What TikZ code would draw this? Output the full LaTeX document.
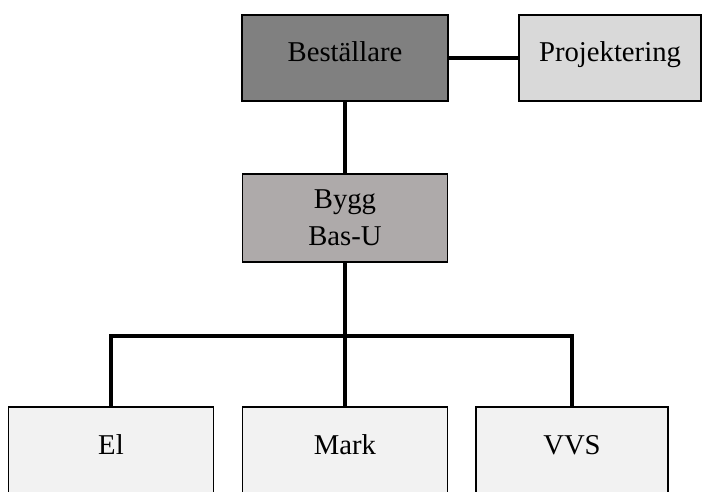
\documentclass[tikz,border=0pt]{standalone}
\usepackage{fontspec}
\setmainfont{Liberation Serif}
\definecolor{bestgray}{HTML}{808080}
\definecolor{projgray}{HTML}{D9D9D9}
\definecolor{bygggray}{HTML}{AEAAAA}
\definecolor{subgray}{HTML}{F2F2F2}
\begin{document}
\begin{tikzpicture}[x=1pt, y=-1pt,
  box/.style={draw, line width=1.4pt, inner sep=0pt, font=\fontsize{28.7}{37}\selectfont},
  topbox/.style={box, minimum height=86pt, text height=19.5pt, text depth=12pt},
  subbox/.style={box, fill=subgray, minimum height=93pt, text height=20pt, text depth=19pt},
  link/.style={line width=4pt}]
\useasboundingbox (0,0) rectangle (702,491);

\node[topbox, fill=bestgray, minimum width=206pt] (best) at (345,58) {Beställare};
\node[topbox, fill=projgray, minimum width=182pt] (proj) at (610,58) {Projektering};

\node[box, fill=bygggray, align=center, minimum width=205pt, minimum height=88pt] (bygg) at (345,218) {Bygg\\Bas-U};

\node[subbox, minimum width=205pt] (el) at (111,453.5) {El};
\node[subbox, minimum width=205pt] (mark) at (345,453.5) {Mark};
\node[subbox, minimum width=192pt] (vvs) at (572,453.5) {VVS};

\coordinate (bar) at (345,336);

\draw[link] (best.east) -- (proj.west);
\draw[link] (best.south) -- (bygg.north);
\draw[link] (bygg.south) -- (mark.north);
\draw[link] (el.north) |- (bar) -| (vvs.north);
\end{tikzpicture}
\end{document}
